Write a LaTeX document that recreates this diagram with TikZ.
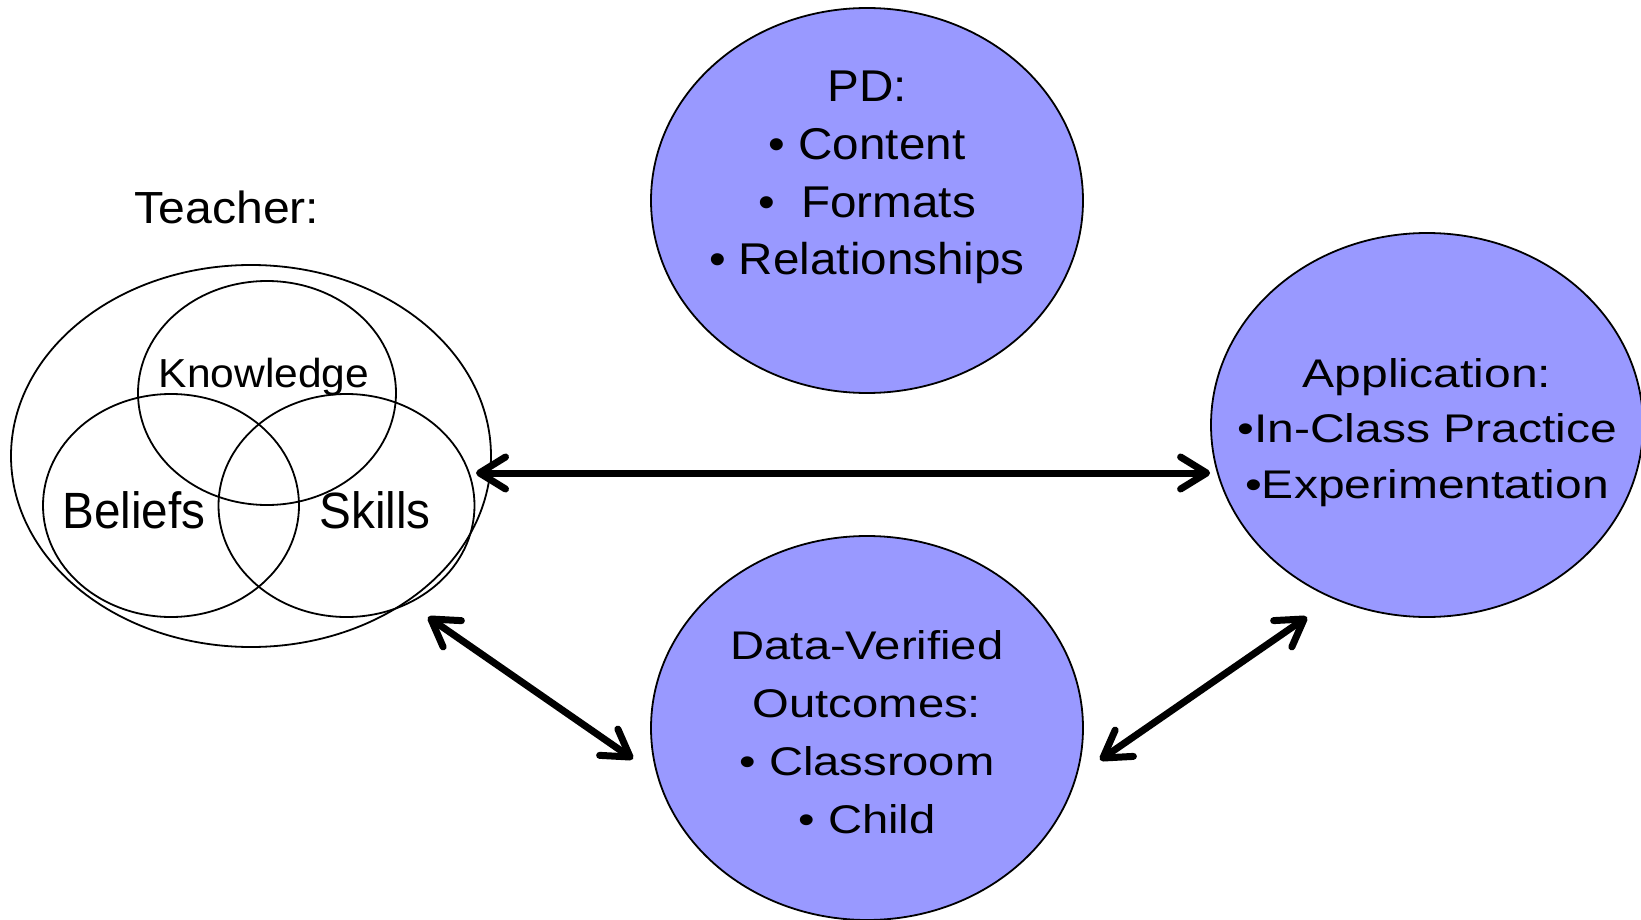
\documentclass[tikz,border=0pt]{standalone}
\usepackage{fontspec}
\setmainfont{Liberation Sans}
\newfontfamily\fPD{Liberation Sans}[FakeStretch=1.07]
\newfontfamily\fDV{Liberation Sans}[FakeStretch=1.18]
\newfontfamily\fAP{Liberation Sans}[FakeStretch=1.2]
\newfontfamily\fBS{Liberation Sans}[FakeStretch=0.935]
\newfontfamily\fKN{Liberation Sans}[FakeStretch=1.05]
\newfontfamily\fTE{Liberation Sans}[FakeStretch=1.07]
\usetikzlibrary{shapes.geometric,arrows.meta}
\definecolor{lav}{HTML}{9999FF}
\begin{document}
\begin{tikzpicture}[x=1pt,y=-1pt,
  bubble/.style={ellipse, draw=black, line width=1.8pt, fill=lav, minimum width=432pt, minimum height=385pt, inner sep=0pt},
  ring/.style={ellipse, draw=black, line width=1.8pt, inner sep=0pt},
  lbl/.style={inner sep=0pt, align=center},
  barb/.tip={Straight Barb[length=26pt,width=32pt,round]},
  biarrow/.style={line width=7pt, barb-barb}
]
\useasboundingbox (0,0) rectangle (1641,920);
\fill[white] (0,0) rectangle (1641,920);

% Teacher venn
\node[ring, minimum width=480pt, minimum height=382pt] (teacher) at (251,456) {};
\node[ring, minimum width=258pt, minimum height=224pt] (know) at (267,393) {};
\node[ring, minimum width=256pt, minimum height=223pt] (beliefs) at (171,505.5) {};
\node[ring, minimum width=256pt, minimum height=223pt] (skills) at (346.5,505.5) {};
\node[lbl, anchor=base, font=\fTE\fontsize{45}{54}\selectfont] (tlabel) at (227,224) {Teacher:};
\node[lbl, anchor=base, font=\fKN\fontsize{40.5}{48}\selectfont] (ktext) at (264,387) {Knowledge};
\node[lbl, anchor=base, font=\fBS\fontsize{51}{60}\selectfont] (btext) at (134,528) {Beliefs};
\node[lbl, anchor=base, font=\fBS\fontsize{51}{60}\selectfont] (stext) at (375,528) {Skills};

% Bubbles
\node[bubble] (pd) at (867,200.5) {};
\node[lbl, anchor=north, font=\fPD\fontsize{44.5}{57.7}\selectfont] (pdtext) at (867,71) {PD:\\• Content\\•\ \ Formats\\• Relationships};

\node[bubble, minimum height=384pt] (app) at (1427,425) {};
\node[lbl, anchor=north, font=\fAP\fontsize{40}{55.5}\selectfont] (apptext) at (1427,358) {Application:\\•In-Class Practice\\•Experimentation};

\node[bubble, minimum height=384pt] (dvo) at (867,728) {};
\node[lbl, anchor=north, font=\fDV\fontsize{40}{58}\selectfont] (dvtext) at (867,630) {Data-Verified\\Outcomes:\\• Classroom\\• Child};

% Arrows
\coordinate (hl) at (476,473);
\coordinate (dl1) at (428,617);
\coordinate (dl2) at (633,759);
\coordinate (dr1) at (1100,760);
\coordinate (dr2) at (1307,617);
\draw[biarrow] (hl) -- (app.west |- hl);
\draw[biarrow] (dl1) -- (dl2);
\draw[biarrow] (dr1) -- (dr2);
\end{tikzpicture}
\end{document}
